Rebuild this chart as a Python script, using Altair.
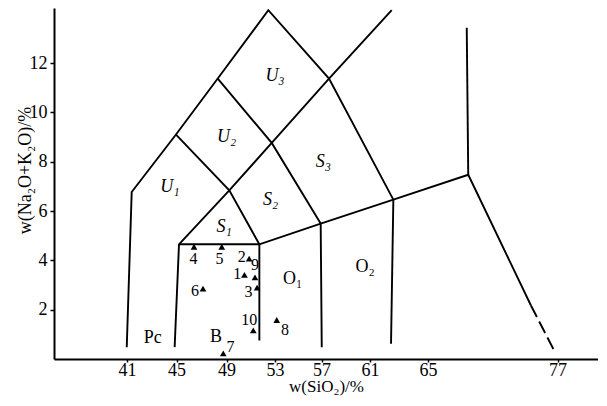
import altair as alt
import pandas as pd

# ---- axis ticks as printed on the figure ----
sio2_ticks = [41, 45, 49, 53, 57, 61, 65, 77]
alk_ticks = [2, 4, 6, 8, 10, 12]
# the printed SiO2 axis is not evenly spaced: piecewise scale through the printed ticks
sio2_scale_domain = [35.1, 41, 45, 49, 53, 57, 61, 65, 77, 80.75]
sio2_scale_range = [0, 73, 122.5, 172.5, 221, 267.5, 316, 374, 503.5, 544]

# ---- TAS field-boundary vertices (SiO2 %, Na2O+K2O %) ----
vertex_id = ["p41b", "p41t", "u1", "u2", "u3", "u3r", "tend", "s1", "s2",
             "b45t", "b45b", "b52t", "b52b", "o1t", "o1b", "o2t", "o2b",
             "o3t", "v69", "d77m", "d77e"]
vertex_sio2 = [40.98, 41.38, 44.96, 48.30, 52.45, 57.62, 62.50, 49.23, 52.73,
               45.20, 44.85, 51.71, 51.71, 56.93, 57.02, 62.61, 62.45,
               68.73, 68.59, 74.54, 76.68]
vertex_alk = [0.48, 6.77, 9.10, 11.37, 14.14, 11.37, 14.14, 6.84, 8.76,
              4.65, 0.48, 4.65, 0.75, 5.49, 0.48, 6.46, 0.62,
              7.47, 13.43, 2.17, 0.35]

solid_lines = [
    ["p41b", "p41t", "u1", "u2", "u3", "u3r", "o2t", "o2b"],
    ["b45b", "b45t", "s1", "s2", "u3r", "tend"],
    ["u1", "s1", "b52t", "b52b"],
    ["u2", "s2", "o1t", "o1b"],
    ["b45t", "b52t", "o1t", "o2t", "o3t", "d77m"],
    ["v69", "o3t"],
]
dashed_lines = [["d77m", "d77e"]]

# ---- field names ----
field_italic = ["U₁", "U₂", "U₃", "S₁", "S₂", "S₃"]
field_italic_sio2 = [44.47, 49.02, 53.00, 48.80, 52.63, 57.15]
field_italic_alk = [6.97, 9.00, 11.46, 5.34, 6.46, 7.98]
field_roman = ["O₁", "O₂", "Pc", "B"]
field_roman_sio2 = [54.51, 60.59, 43.08, 48.16]
field_roman_alk = [3.26, 3.71, 0.86, 0.90]

# ---- samples ----
sample_no = ["1", "2", "3", "4", "5", "6", "7", "8", "9", "10"]
sample_sio2 = [50.48, 50.87, 51.52, 46.40, 48.62, 47.12, 48.74, 53.15, 51.35, 51.21]
sample_alk = [3.41, 4.07, 2.89, 4.55, 4.55, 2.85, 0.23, 1.58, 3.31, 1.16]
label_sio2 = [49.89, 50.25, 50.81, 46.36, 48.44, 46.48, 49.33, 53.86, 51.35, 50.88]
label_alk = [3.43, 4.13, 2.73, 4.07, 4.04, 2.75, 0.49, 1.19, 3.80, 1.59]

V = {k: (x, y) for k, x, y in zip(vertex_id, vertex_sio2, vertex_alk)}


def to_rows(lines, tag):
    rows = []
    for i, pts in enumerate(lines):
        for j, p in enumerate(pts):
            rows.append({"line": f"{tag}{i}", "ord": j, "sio2": V[p][0], "alk": V[p][1]})
    return pd.DataFrame(rows)


solid_df = to_rows(solid_lines, "s")
dash_df = to_rows(dashed_lines, "d")
fi_df = pd.DataFrame({"t": field_italic, "sio2": field_italic_sio2, "alk": field_italic_alk})
fr_df = pd.DataFrame({"t": field_roman, "sio2": field_roman_sio2, "alk": field_roman_alk})
pt_df = pd.DataFrame({"n": sample_no, "sio2": sample_sio2, "alk": sample_alk})
lb_df = pd.DataFrame({"n": sample_no, "sio2": label_sio2, "alk": label_alk})

FONT = "Liberation Serif"

xscale = alt.Scale(domain=sio2_scale_domain, range=sio2_scale_range, zero=False, nice=False)
yscale = alt.Scale(domain=[0, 14.23], zero=False, nice=False)

X = alt.X("sio2:Q", scale=xscale,
          axis=alt.Axis(values=sio2_ticks, title="w(SiO₂)/%", grid=False,
                        tickSize=3, labelPadding=-1,
                        labelFont=FONT, labelFontSize=18, titleFont=FONT,
                        titleFontSize=17, titleFontWeight="normal",
                        titleY=32, titleBaseline="alphabetic",
                        labelFlush=False))
Y = alt.Y("alk:Q", scale=yscale,
          axis=alt.Axis(values=alk_ticks, title="w(Na₂O+K₂O)/%", grid=False,
                        tickSize=4, labelPadding=3,
                        labelFont=FONT, labelFontSize=18, titleFont=FONT,
                        titleFontSize=18, titleFontWeight="normal",
                        titleAngle=270, titleX=-24, titleY=162,
                        titleAlign="center", titleBaseline="alphabetic",
                        labelFlush=False))

solid = alt.Chart(solid_df).mark_line(color="black", strokeWidth=1.9).encode(
    x=X, y=Y, detail="line:N", order="ord:Q")
dashed = alt.Chart(dash_df).mark_line(color="black", strokeWidth=1.9, strokeDash=[13, 5]).encode(
    x="sio2:Q", y="alk:Q", detail="line:N", order="ord:Q")
fields_i = alt.Chart(fi_df).mark_text(font=FONT, fontSize=18, fontStyle="italic",
                                      color="black").encode(x="sio2:Q", y="alk:Q", text="t:N")
fields_r = alt.Chart(fr_df).mark_text(font=FONT, fontSize=18, color="black").encode(
    x="sio2:Q", y="alk:Q", text="t:N")
points = alt.Chart(pt_df).mark_point(shape="triangle-up", filled=True, color="black",
                                     size=45, opacity=1).encode(x="sio2:Q", y="alk:Q")
labels = alt.Chart(lb_df).mark_text(font=FONT, fontSize=16, color="black").encode(
    x="sio2:Q", y="alk:Q", text="n:N")

chart = alt.layer(solid, dashed, fields_i, fields_r, points, labels).properties(
    width=544, height=351,
    autosize=alt.AutoSizeParams(type="none"),
    padding={"left": 46, "top": 0, "right": 0, "bottom": 37},
    background="white",
).configure_view(stroke=None).configure_axis(
    domainColor="black", domainWidth=2, tickColor="black", tickWidth=1.5,
    labelColor="black", titleColor="black")

chart.save("out.html", embed_options={"renderer": "svg", "actions": False})
